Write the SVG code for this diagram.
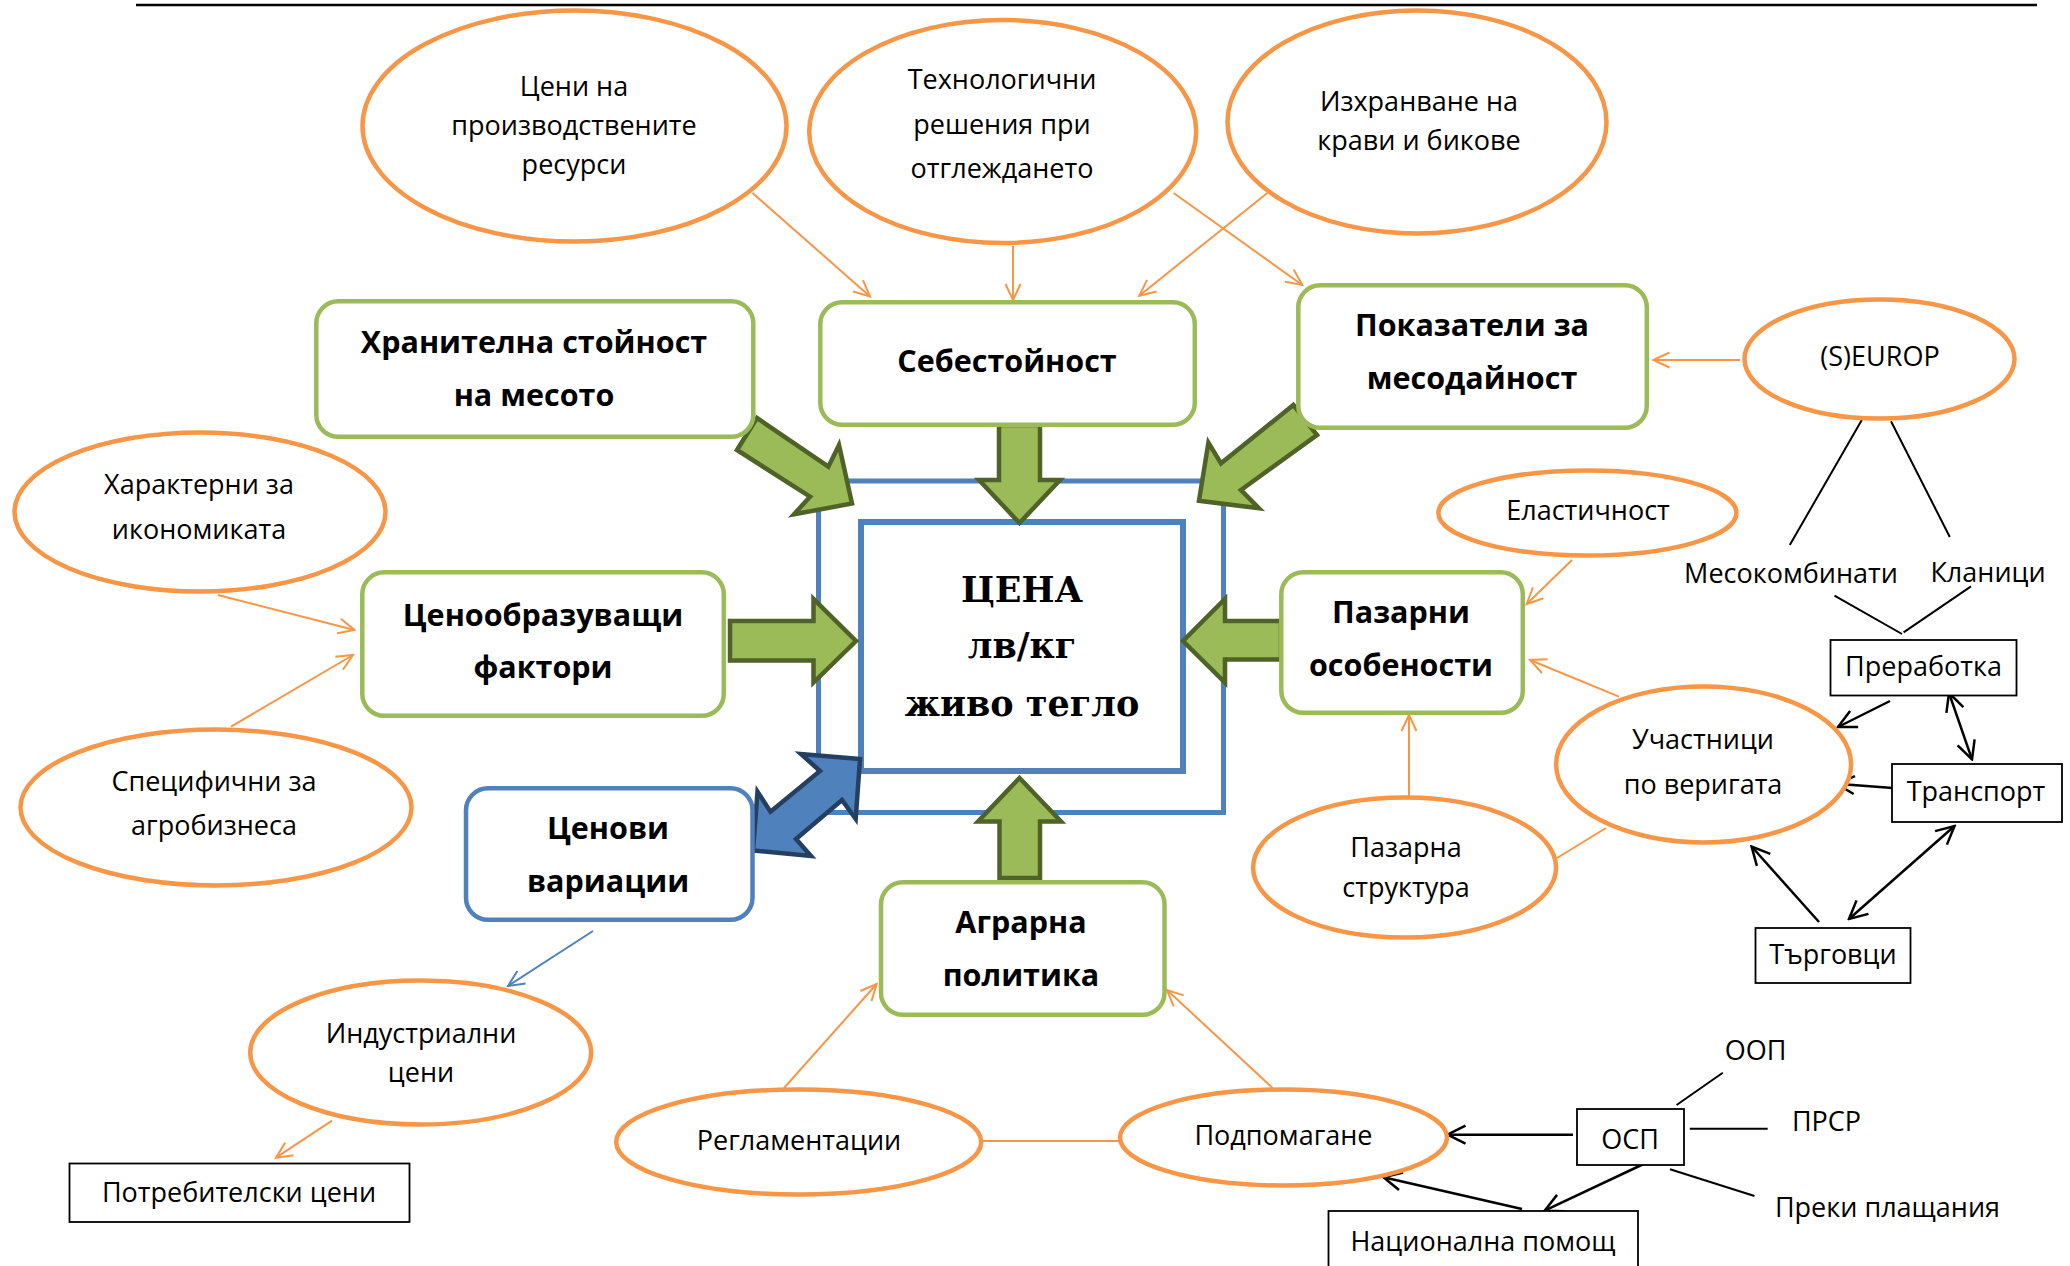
<svg xmlns="http://www.w3.org/2000/svg" width="2070" height="1266" viewBox="0 0 2070 1266">
<style>
.ell{fill:#fff;stroke:#F79646;stroke-width:4.5}
.gbox{fill:#fff;stroke:#9BBB59;stroke-width:4.5}
.bbox{fill:#fff;stroke:#4F81BD;stroke-width:4.5}
.kbox{fill:#fff;stroke:#000;stroke-width:1.8}
.t{font-family:"Open Sans","Noto Sans",sans-serif;font-size:27px;fill:#000;text-anchor:middle}
.tb{font-weight:bold;font-size:30.5px}
.ts{font-family:"DejaVu Serif","Liberation Serif",serif;font-weight:bold;font-size:35px;fill:#000;text-anchor:middle}
.oc{stroke:#F79646;stroke-width:2;fill:none}
.bc{stroke:#4F81BD;stroke-width:2;fill:none}
.kc{stroke:#000;stroke-width:2.5;fill:none}
.kl{stroke:#000;stroke-width:2;fill:none}
.garr{fill:#9BBB59;stroke:#4F6228;stroke-width:4.5}
.barr{fill:#4F81BD;stroke:#243F60;stroke-width:4.5}
</style>
<defs>
<marker id="oa" markerUnits="userSpaceOnUse" viewBox="-20 -11 22 22" markerWidth="22" markerHeight="22" refX="0" refY="0" orient="auto"><path d="M-16,-7.5 L0,0 L-16,7.5" fill="none" stroke="#F79646" stroke-width="2"/></marker>
<marker id="ba" markerUnits="userSpaceOnUse" viewBox="-20 -11 22 22" markerWidth="22" markerHeight="22" refX="0" refY="0" orient="auto"><path d="M-16,-7.5 L0,0 L-16,7.5" fill="none" stroke="#4F81BD" stroke-width="2"/></marker>
<marker id="ka" markerUnits="userSpaceOnUse" viewBox="-22 -12 24 24" markerWidth="24" markerHeight="24" refX="0" refY="0" orient="auto-start-reverse"><path d="M-18,-9 L0,0 L-18,9" fill="none" stroke="#000" stroke-width="2.5"/></marker>
</defs>
<rect width="2070" height="1266" fill="#fff"/>
<line x1="136" y1="5" x2="2037" y2="5" stroke="#000" stroke-width="2.5"/>

<g id="connectors">
 <g id="thin-connectors">
  <line class="oc" x1="752.5" y1="193" x2="870" y2="296.4" marker-end="url(#oa)"/>
  <line class="oc" x1="1013" y1="246" x2="1013" y2="300" marker-end="url(#oa)"/>
  <line class="oc" x1="1173.6" y1="193" x2="1302.3" y2="285" marker-end="url(#oa)"/>
  <line class="oc" x1="1267.3" y1="193" x2="1139.3" y2="295.7" marker-end="url(#oa)"/>
  <line class="oc" x1="1740" y1="360" x2="1653.5" y2="360" marker-end="url(#oa)"/>
  <line class="oc" x1="217.8" y1="595" x2="354.5" y2="630" marker-end="url(#oa)"/>
  <line class="oc" x1="231" y1="726.7" x2="353" y2="655" marker-end="url(#oa)"/>
  <line class="oc" x1="1572" y1="560" x2="1526.7" y2="604" marker-end="url(#oa)"/>
  <line class="oc" x1="1619" y1="696.7" x2="1530" y2="660" marker-end="url(#oa)"/>
  <line class="oc" x1="1409" y1="796" x2="1409" y2="715" marker-end="url(#oa)"/>
  <line class="oc" x1="1557" y1="858" x2="1606" y2="828"/>
  <line class="oc" x1="784" y1="1088" x2="876.6" y2="984" marker-end="url(#oa)"/>
  <line class="oc" x1="1272.6" y1="1088" x2="1167" y2="990" marker-end="url(#oa)"/>
  <line class="oc" x1="983" y1="1141" x2="1120" y2="1141"/>
  <line class="bc" x1="593" y1="931" x2="508" y2="986" marker-end="url(#ba)"/>
  <line class="oc" x1="332" y1="1120.7" x2="276" y2="1157.7" marker-end="url(#oa)"/>
  <line class="kl" x1="1861.8" y1="420" x2="1789.8" y2="545"/>
  <line class="kl" x1="1891" y1="421.3" x2="1949.8" y2="537"/>
  <line class="kl" x1="1834.5" y1="595.6" x2="1902" y2="634"/>
  <line class="kl" x1="1903.6" y1="632.3" x2="1971" y2="586.4"/>
  <line class="kc" x1="1890" y1="701" x2="1838" y2="727" marker-end="url(#ka)"/>
  <line class="kc" x1="1949" y1="693" x2="1972" y2="759.4" marker-start="url(#ka)" marker-end="url(#ka)"/>
  <line class="kc" x1="1892.7" y1="788" x2="1836.4" y2="783.7" marker-end="url(#ka)"/>
  <line class="kc" x1="1819" y1="922" x2="1751.6" y2="846.5" marker-end="url(#ka)"/>
  <line class="kc" x1="1954.5" y1="826" x2="1849" y2="919" marker-start="url(#ka)" marker-end="url(#ka)"/>
  <line class="kc" x1="1573" y1="1134.7" x2="1447.5" y2="1134.7" marker-end="url(#ka)"/>
  <line class="kc" x1="1643.6" y1="1164" x2="1544.6" y2="1210.7" marker-end="url(#ka)"/>
  <line class="kc" x1="1522" y1="1209" x2="1383.5" y2="1177.3" marker-end="url(#ka)"/>
  <line class="kl" x1="1676.6" y1="1105" x2="1722.8" y2="1072.7"/>
  <line class="kl" x1="1689.8" y1="1128.7" x2="1767.7" y2="1128.7"/>
  <line class="kl" x1="1670" y1="1169.3" x2="1754.5" y2="1196"/>
 </g>
</g>

<g id="node-price">
 <rect x="818.5" y="481" width="405" height="331.5" fill="#fff" stroke="#4F81BD" stroke-width="5"/>
 <rect x="861" y="522" width="322" height="249" fill="#fff" stroke="#4F81BD" stroke-width="6"/>
 <text class="ts" x="1022" y="601.5">ЦЕНА</text>
 <text class="ts" x="1022" y="658">лв/кг</text>
 <text class="ts" x="1022" y="715.5">живо тегло</text>
</g>

<g id="block-arrows">
 <polygon class="garr" points="999,425 1040,425 1040,480 1060,480 1019.5,523 979,480 999,480"/>
 <polygon class="garr" points="999.5,878 1040,878 1040,821.5 1061,821.5 1019.5,778 978,821.5 999.5,821.5"/>
 <polygon class="garr" points="730,621 813.5,621 813.5,599 856,641 813.5,682.5 813.5,660.5 730,660.5"/>
 <polygon class="garr" points="1281,621 1225,621 1225,599 1183,641 1225,682.5 1225,659.5 1281,659.5"/>
 <polygon class="garr" points="737,450 757,418 828.4,466.7 839,445 852,503.5 794,514.3 810,496.7"/>
 <polygon class="garr" points="1293.4,405 1317,435 1241,490 1259,508.3 1199,500.7 1208.4,442.7 1221,463.3"/>
 <polygon class="barr" points="860,759 801,754 820,771 770.5,811.7 757.5,791.7 753,850.5 811,856 796,839 842,800 855.7,819"/>
</g>

<g id="node-ceni-resursi"><ellipse class="ell" cx="574.5" cy="126" rx="212" ry="115.5"/>
 <text class="t" x="574" y="96">Цени на</text><text class="t" x="574" y="135">производствените</text><text class="t" x="574" y="174">ресурси</text></g>
<g id="node-tehnologichni"><ellipse class="ell" cx="1002.7" cy="131.5" rx="193.5" ry="111.5"/>
 <text class="t" x="1002" y="89">Технологични</text><text class="t" x="1002" y="134">решения при</text><text class="t" x="1002" y="178">отглеждането</text></g>
<g id="node-izhranvane"><ellipse class="ell" cx="1417" cy="122" rx="189.5" ry="111.5"/>
 <text class="t" x="1419" y="111">Изхранване на</text><text class="t" x="1419" y="150">крави и бикове</text></g>
<g id="node-seurop"><ellipse class="ell" cx="1879.5" cy="359" rx="135" ry="59.5"/>
 <text class="t" x="1880" y="366">(S)EUROP</text></g>
<g id="node-elastichnost"><ellipse class="ell" cx="1587.4" cy="513" rx="149" ry="42.5"/>
 <text class="t" x="1588" y="520">Еластичност</text></g>
<g id="node-harakterni"><ellipse class="ell" cx="200" cy="512" rx="185.5" ry="79.5"/>
 <text class="t" x="199" y="493.5">Характерни за</text><text class="t" x="199" y="538.5">икономиката</text></g>
<g id="node-specifichni"><ellipse class="ell" cx="216" cy="807.5" rx="195.5" ry="78"/>
 <text class="t" x="214" y="791">Специфични за</text><text class="t" x="214" y="835">агробизнеса</text></g>
<g id="node-industrialni"><ellipse class="ell" cx="420.7" cy="1052.5" rx="170.5" ry="72"/>
 <text class="t" x="421" y="1042.5">Индустриални</text><text class="t" x="421" y="1082">цени</text></g>
<g id="node-reglamentacii"><ellipse class="ell" cx="798.7" cy="1142" rx="182.5" ry="52.5"/>
 <text class="t" x="799" y="1149.5">Регламентации</text></g>
<g id="node-podpomagane"><ellipse class="ell" cx="1283.5" cy="1137.5" rx="163.5" ry="48"/>
 <text class="t" x="1283.5" y="1144.5">Подпомагане</text></g>
<g id="node-pazarna-struktura"><ellipse class="ell" cx="1404.6" cy="867.5" rx="151.5" ry="70"/>
 <text class="t" x="1406" y="857">Пазарна</text><text class="t" x="1406" y="897">структура</text></g>
<g id="node-uchastnici"><ellipse class="ell" cx="1703.6" cy="764.4" rx="147.5" ry="78"/>
 <text class="t" x="1703" y="749">Участници</text><text class="t" x="1703" y="794">по веригата</text></g>

<g id="node-hranitelna"><rect class="gbox" x="316.3" y="301.3" width="437" height="135.5" rx="22"/>
 <text class="t tb" x="534" y="352.5">Хранителна стойност</text><text class="t tb" x="534" y="406">на месото</text></g>
<g id="node-sebestoinost"><rect class="gbox" x="820.3" y="302.3" width="374.5" height="122.5" rx="22"/>
 <text class="t tb" x="1007" y="372">Себестойност</text></g>
<g id="node-pokazateli"><rect class="gbox" x="1298.3" y="285.3" width="348.5" height="142.5" rx="22"/>
 <text class="t tb" x="1472" y="336">Показатели за</text><text class="t tb" x="1472" y="389">месодайност</text></g>
<g id="node-cenoobrazuvashti"><rect class="gbox" x="362.3" y="572.3" width="361.5" height="143.5" rx="22"/>
 <text class="t tb" x="543" y="625.5">Ценообразуващи</text><text class="t tb" x="543" y="677.5">фактори</text></g>
<g id="node-pazarni"><rect class="gbox" x="1281.3" y="572.3" width="241.5" height="140.5" rx="22"/>
 <text class="t tb" x="1401" y="622.5">Пазарни</text><text class="t tb" x="1401" y="676">особености</text></g>
<g id="node-agrarna"><rect class="gbox" x="881" y="882.3" width="283.5" height="132.5" rx="22"/>
 <text class="t tb" x="1021" y="932.5">Аграрна</text><text class="t tb" x="1021" y="986">политика</text></g>
<g id="node-cenovi"><rect class="bbox" x="466" y="788.3" width="286.5" height="131.5" rx="22"/>
 <text class="t tb" x="608" y="838.5">Ценови</text><text class="t tb" x="608" y="892">вариации</text></g>

<g id="node-mesokombinati"><text class="t" x="1791" y="583">Месокомбинати</text></g>
<g id="node-klanici"><text class="t" x="1988" y="582">Кланици</text></g>
<g id="node-preabotka"><rect class="kbox" x="1830.5" y="640" width="186" height="55.5"/><text class="t" x="1923.5" y="676">Преработка</text></g>
<g id="node-transport"><rect class="kbox" x="1892" y="764" width="170" height="58"/><text class="t" x="1976" y="800.5">Транспорт</text></g>
<g id="node-targovci"><rect class="kbox" x="1755.5" y="928" width="155" height="55"/><text class="t" x="1833" y="963.5">Търговци</text></g>
<g id="node-potrebitelski"><rect class="kbox" x="69.5" y="1163.5" width="340" height="58.5"/><text class="t" x="239" y="1202">Потребителски цени</text></g>
<g id="node-osp"><rect class="kbox" x="1577" y="1109" width="107" height="56"/><text class="t" x="1630" y="1148.5">ОСП</text></g>
<g id="node-nacionalna"><rect class="kbox" x="1328.5" y="1211" width="309.5" height="60"/><text class="t" x="1483" y="1250.5">Национална помощ</text></g>
<g id="node-oop"><text class="t" x="1755.5" y="1060">ООП</text></g>
<g id="node-prsr"><text class="t" x="1826.5" y="1131">ПРСР</text></g>
<g id="node-preki"><text class="t" x="1887.5" y="1216.5">Преки плащания</text></g>
</svg>
